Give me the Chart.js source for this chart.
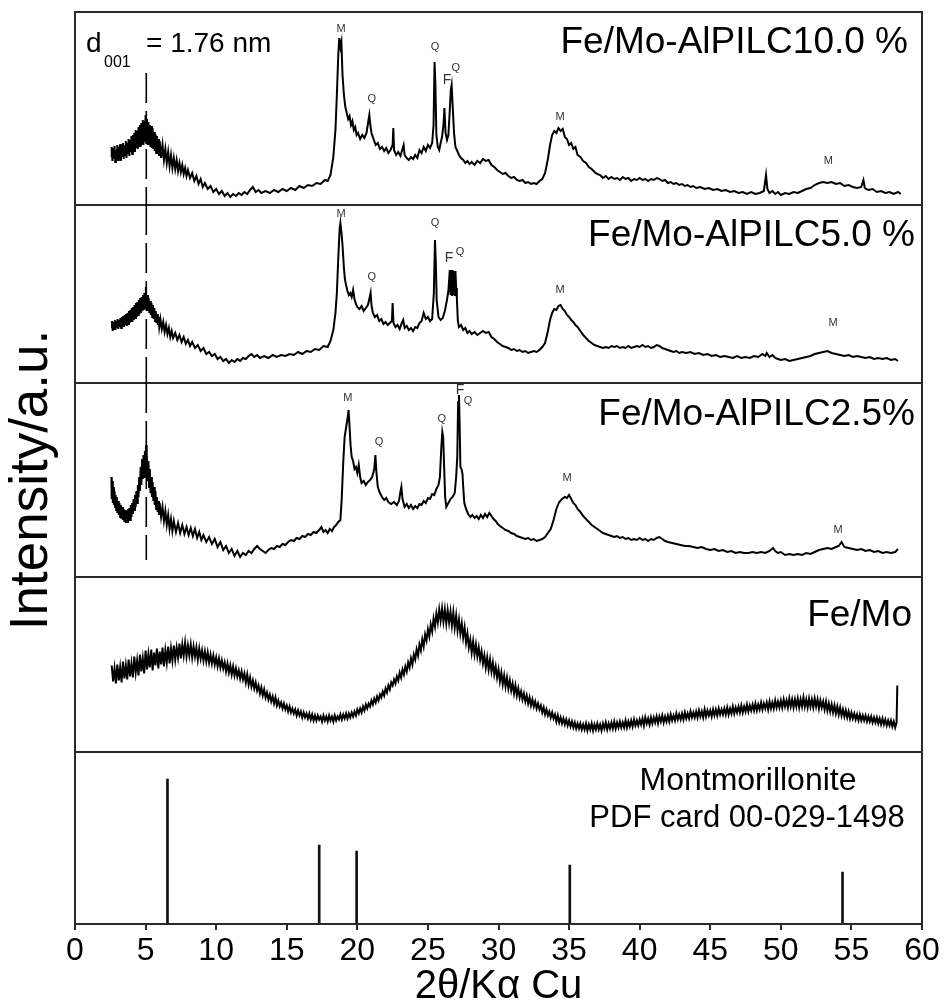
<!DOCTYPE html>
<html><head><meta charset="utf-8">
<script src="https://cdn.jsdelivr.net/npm/chart.js@4.4.1/dist/chart.umd.min.js"></script>
<style>html,body{margin:0;padding:0;background:#fff;}#wrap{width:946px;height:1007px;}</style>
</head><body><div id="wrap"><canvas id="c" width="946" height="1007"></canvas></div>
<script>
const FONT = '"Liberation Sans", Arial, Helvetica, sans-serif';
const xTickValues = [0,5,10,15,20,25,30,35,40,45,50,55,60];
const xTitle = '2θ/Kα Cu';
const yTitle = 'Intensity/a.u.';
const sampleNames = ['Fe/Mo-AlPILC10.0 %','Fe/Mo-AlPILC5.0 %','Fe/Mo-AlPILC2.5%','Fe/Mo'];
const refNames = ['Montmorillonite','PDF card 00-029-1498'];

// 2θ, intensity (a.u., local to each pattern)
const pattern10 = [[2.58,48],[2.6,58],[2.65,44],[2.7,57],[2.75,46],[2.8,59],[2.85,43],[2.9,55],[2.95,47],[3.0,60],[3.05,45],[3.1,58],[3.15,48],[3.2,61],[3.25,44],[3.3,59],[3.35,49],[3.4,62],[3.45,46],[3.5,60],[3.55,50],[3.6,64],[3.65,47],[3.7,62],[3.75,51],[3.8,66],[3.85,49],[3.9,65],[3.95,53],[4.0,69],[4.05,51],[4.1,70],[4.15,55],[4.2,72],[4.25,53],[4.3,75],[4.35,57],[4.4,74],[4.45,56],[4.5,78],[4.55,59],[4.6,80],[4.65,58],[4.7,82],[4.75,61],[4.8,85],[4.85,60],[4.9,84],[4.95,63],[5.0,90],[5.05,62],[5.1,86],[5.15,60],[5.2,83],[5.25,61],[5.3,80],[5.35,58],[5.4,79],[5.45,57],[5.5,77],[5.55,56],[5.6,73],[5.65,54],[5.7,71],[5.75,52],[5.8,69],[5.85,51],[5.9,66],[5.95,49],[6.0,64],[6.1,47],[6.2,60],[6.3,45],[6.4,56],[6.5,42],[6.6,53],[6.7,39],[6.8,50],[6.9,37],[7.0,47],[7.1,36],[7.2,45],[7.3,34],[7.4,42],[7.5,33],[7.6,40],[7.7,31],[7.8,37],[7.9,29],[8.0,35],[8.15,27],[8.3,32],[8.45,24],[8.6,29],[8.75,21],[8.9,26],[9.05,18],[9.2,22],[9.4,16],[9.6,19],[9.8,13],[10.0,16],[10.2,11],[10.4,14],[10.6,9],[10.8,12],[11.0,8],[11.2,11],[11.4,9],[11.6,12],[11.8,10],[12.0,13],[12.2,11],[12.4,15],[12.6,18],[12.8,13],[13.0,15],[13.2,12],[13.5,14],[13.8,12],[14.1,15],[14.4,13],[14.7,16],[15.0,14],[15.3,17],[15.6,15],[15.9,19],[16.2,17],[16.5,20],[16.8,19],[17.1,22],[17.4,21],[17.7,25],[17.9,24],[18.1,30],[18.3,48],[18.45,75],[18.55,110],[18.65,150],[18.72,167],[18.8,158],[18.87,163],[18.95,130],[19.05,110],[19.15,98],[19.25,92],[19.35,86],[19.45,89],[19.55,80],[19.65,84],[19.75,75],[19.85,78],[19.95,70],[20.05,72],[20.2,66],[20.35,70],[20.5,67],[20.65,72],[20.78,84],[20.85,90],[20.92,80],[21.0,72],[21.15,66],[21.3,60],[21.45,62],[21.6,56],[21.75,58],[21.9,54],[22.05,57],[22.2,52],[22.35,55],[22.5,60],[22.55,77],[22.6,55],[22.75,50],[22.9,53],[23.05,49],[23.2,56],[23.28,60],[23.35,50],[23.5,47],[23.65,45],[23.8,48],[23.95,46],[24.1,50],[24.25,47],[24.4,55],[24.55,52],[24.7,58],[24.85,54],[25.0,60],[25.15,57],[25.3,62],[25.4,80],[25.47,143],[25.53,120],[25.6,70],[25.7,58],[25.8,55],[25.9,62],[26.0,68],[26.1,80],[26.17,97],[26.25,72],[26.35,65],[26.45,70],[26.55,95],[26.62,115],[26.68,120],[26.75,100],[26.85,72],[26.95,58],[27.05,55],[27.2,50],[27.35,47],[27.5,45],[27.65,42],[27.8,44],[27.95,41],[28.1,43],[28.3,40],[28.5,44],[28.7,42],[28.9,46],[29.1,44],[29.3,45],[29.5,40],[29.7,38],[29.9,35],[30.1,33],[30.3,31],[30.5,32],[30.7,29],[30.9,27],[31.1,28],[31.3,25],[31.5,24],[31.7,25],[31.9,22],[32.1,23],[32.3,21],[32.5,22],[32.7,21],[32.9,24],[33.1,26],[33.3,32],[33.5,46],[33.65,60],[33.8,70],[33.95,74],[34.1,72],[34.25,77],[34.4,74],[34.55,76],[34.7,68],[34.85,66],[35.0,60],[35.15,62],[35.3,56],[35.45,58],[35.6,50],[35.8,48],[36.0,44],[36.2,42],[36.4,38],[36.6,36],[36.8,33],[37.0,31],[37.2,30],[37.4,27],[37.6,29],[37.8,26],[38.0,28],[38.2,26],[38.4,27],[38.6,25],[38.8,28],[39.0,26],[39.2,27],[39.4,24],[39.6,26],[39.8,25],[40.0,27],[40.2,25],[40.4,26],[40.6,24],[40.8,26],[41.0,25],[41.2,27],[41.4,26],[41.6,24],[41.8,25],[42.0,22],[42.2,23],[42.4,21],[42.6,22],[42.8,20],[43.0,21],[43.2,19],[43.4,20],[43.6,18],[43.8,19],[44.0,17],[44.3,18],[44.6,16],[44.9,17],[45.2,15],[45.5,16],[45.8,14],[46.1,15],[46.4,13],[46.7,14],[47.0,12],[47.3,13],[47.6,11],[47.9,13],[48.2,11],[48.5,12],[48.8,14],[48.95,30],[49.05,16],[49.2,12],[49.4,14],[49.6,11],[49.8,13],[50.0,10],[50.3,12],[50.6,11],[50.9,13],[51.2,12],[51.5,14],[51.8,16],[52.1,17],[52.4,20],[52.7,22],[53.0,23],[53.3,22],[53.6,23],[53.9,21],[54.2,22],[54.5,19],[54.8,20],[55.1,18],[55.4,17],[55.7,18],[55.85,25],[55.95,17],[56.2,15],[56.5,16],[56.8,13],[57.1,14],[57.4,12],[57.7,13],[58.0,11],[58.3,13],[58.5,11]];

const pattern5 = [[2.58,55],[2.62,62],[2.67,52],[2.72,61],[2.77,54],[2.82,63],[2.87,53],[2.92,62],[2.97,55],[3.02,64],[3.07,54],[3.12,63],[3.17,56],[3.22,65],[3.27,55],[3.32,66],[3.37,57],[3.42,67],[3.47,56],[3.52,68],[3.57,58],[3.62,69],[3.67,57],[3.72,70],[3.77,59],[3.82,72],[3.87,60],[3.92,73],[3.97,62],[4.02,75],[4.07,61],[4.12,76],[4.17,63],[4.22,78],[4.27,65],[4.32,80],[4.37,66],[4.42,81],[4.47,68],[4.52,83],[4.57,69],[4.62,85],[4.67,70],[4.72,86],[4.77,72],[4.82,88],[4.87,73],[4.92,90],[4.97,75],[5.02,96],[5.07,74],[5.12,88],[5.17,72],[5.22,85],[5.27,70],[5.32,82],[5.37,68],[5.42,80],[5.47,66],[5.52,78],[5.57,64],[5.62,75],[5.67,62],[5.72,72],[5.77,60],[5.82,69],[5.87,58],[5.92,66],[5.97,56],[6.05,64],[6.15,54],[6.25,61],[6.35,51],[6.45,58],[6.55,49],[6.65,55],[6.75,46],[6.85,52],[6.95,45],[7.1,50],[7.25,43],[7.4,48],[7.55,41],[7.7,46],[7.85,39],[8.0,43],[8.15,37],[8.3,41],[8.5,35],[8.7,38],[8.9,32],[9.1,35],[9.3,29],[9.5,31],[9.7,27],[9.9,29],[10.1,24],[10.3,26],[10.5,22],[10.7,24],[10.9,20],[11.1,23],[11.3,21],[11.5,24],[11.7,22],[11.9,25],[12.1,24],[12.3,27],[12.5,29],[12.7,26],[12.9,28],[13.1,25],[13.4,27],[13.7,25],[14.0,28],[14.3,26],[14.6,28],[14.9,27],[15.2,29],[15.5,28],[15.8,31],[16.1,29],[16.4,32],[16.7,31],[17.0,34],[17.3,33],[17.6,37],[17.9,36],[18.1,42],[18.3,53],[18.45,70],[18.55,90],[18.65,125],[18.75,155],[18.8,160],[18.88,150],[18.95,138],[19.05,115],[19.12,104],[19.2,98],[19.3,92],[19.4,88],[19.5,90],[19.6,86],[19.7,93],[19.8,84],[19.9,79],[20.0,76],[20.15,74],[20.3,77],[20.45,72],[20.6,75],[20.75,78],[20.88,86],[20.94,90],[21.0,78],[21.1,70],[21.25,66],[21.4,68],[21.55,62],[21.7,64],[21.85,59],[22.0,61],[22.15,58],[22.3,60],[22.45,62],[22.5,80],[22.56,60],[22.7,56],[22.85,58],[23.0,54],[23.15,60],[23.25,63],[23.35,55],[23.5,57],[23.65,53],[23.8,55],[23.95,52],[24.1,56],[24.25,55],[24.4,60],[24.55,62],[24.7,70],[24.85,64],[25.0,66],[25.15,62],[25.3,64],[25.42,90],[25.5,143],[25.56,120],[25.62,83],[25.75,66],[25.9,63],[26.05,65],[26.2,72],[26.35,83],[26.45,92],[26.55,113],[26.6,88],[26.65,113],[26.7,87],[26.75,113],[26.8,88],[26.85,112],[26.9,87],[26.95,112],[27.0,95],[27.05,85],[27.12,62],[27.2,56],[27.35,58],[27.5,53],[27.65,55],[27.8,50],[27.95,52],[28.1,49],[28.3,51],[28.5,48],[28.7,50],[28.9,52],[29.1,50],[29.3,51],[29.5,46],[29.7,44],[29.9,41],[30.1,39],[30.3,37],[30.5,36],[30.7,35],[30.9,33],[31.1,34],[31.3,32],[31.5,33],[31.7,31],[31.9,32],[32.1,30],[32.3,31],[32.5,32],[32.7,31],[32.9,33],[33.1,36],[33.3,40],[33.5,52],[33.65,63],[33.8,70],[33.95,74],[34.1,73],[34.25,77],[34.4,78],[34.55,74],[34.7,72],[34.85,68],[35.0,66],[35.15,63],[35.3,61],[35.45,58],[35.6,56],[35.8,52],[36.0,48],[36.2,45],[36.4,42],[36.6,40],[36.8,38],[37.0,37],[37.2,36],[37.4,35],[37.6,36],[37.8,35],[38.0,37],[38.2,36],[38.4,37],[38.6,35],[38.8,36],[39.0,35],[39.2,37],[39.4,35],[39.6,36],[39.8,37],[40.0,36],[40.2,38],[40.4,36],[40.6,37],[40.8,35],[41.0,36],[41.2,38],[41.4,37],[41.6,35],[41.8,34],[42.0,33],[42.2,32],[42.4,31],[42.6,32],[42.8,30],[43.0,31],[43.3,30],[43.6,31],[43.9,29],[44.2,30],[44.5,28],[44.8,29],[45.1,27],[45.4,28],[45.7,26],[46.0,27],[46.3,26],[46.6,25],[46.9,27],[47.2,25],[47.5,26],[47.8,25],[48.1,27],[48.4,26],[48.7,29],[48.9,27],[49.0,30],[49.2,26],[49.4,28],[49.6,25],[49.8,24],[50.0,23],[50.3,24],[50.6,22],[50.9,23],[51.2,24],[51.5,25],[51.8,26],[52.1,27],[52.4,29],[52.7,30],[53.0,31],[53.3,32],[53.6,30],[53.9,29],[54.2,28],[54.5,27],[54.8,28],[55.1,26],[55.4,27],[55.7,26],[56.0,25],[56.3,26],[56.6,24],[56.9,25],[57.2,24],[57.5,25],[57.8,23],[58.1,24],[58.3,22]];

const pattern25 = [[2.58,100],[2.6,78],[2.64,96],[2.68,74],[2.72,90],[2.76,72],[2.8,86],[2.84,70],[2.88,82],[2.92,67],[2.96,80],[3.0,64],[3.05,76],[3.1,62],[3.15,74],[3.2,60],[3.25,72],[3.3,58],[3.35,70],[3.4,57],[3.45,68],[3.5,55],[3.55,67],[3.6,54],[3.65,66],[3.7,55],[3.75,68],[3.8,56],[3.85,69],[3.9,57],[3.95,72],[4.0,60],[4.05,74],[4.1,63],[4.15,78],[4.2,67],[4.25,82],[4.3,70],[4.35,86],[4.4,74],[4.45,92],[4.5,80],[4.55,100],[4.6,86],[4.65,110],[4.7,92],[4.75,118],[4.8,98],[4.85,122],[4.9,100],[4.95,126],[5.0,104],[5.03,132],[5.06,100],[5.1,124],[5.15,96],[5.2,116],[5.25,90],[5.3,108],[5.35,84],[5.4,100],[5.45,80],[5.5,95],[5.55,76],[5.6,90],[5.65,72],[5.7,86],[5.75,68],[5.8,80],[5.85,65],[5.9,76],[5.95,62],[6.0,74],[6.1,60],[6.2,70],[6.3,56],[6.4,66],[6.5,52],[6.6,62],[6.7,48],[6.8,58],[6.9,46],[7.0,56],[7.15,45],[7.3,54],[7.45,44],[7.6,52],[7.75,43],[7.9,50],[8.05,42],[8.2,49],[8.35,41],[8.5,48],[8.65,39],[8.8,45],[8.95,37],[9.1,42],[9.3,35],[9.5,40],[9.7,33],[9.9,38],[10.1,30],[10.3,35],[10.5,27],[10.7,31],[10.9,24],[11.1,28],[11.3,21],[11.5,26],[11.7,20],[11.9,24],[12.1,22],[12.3,26],[12.5,24],[12.7,28],[12.9,31],[13.1,28],[13.3,26],[13.5,24],[13.7,27],[13.9,29],[14.1,28],[14.3,31],[14.5,30],[14.7,33],[14.9,32],[15.1,35],[15.3,37],[15.5,36],[15.7,39],[15.9,38],[16.1,41],[16.3,40],[16.5,43],[16.7,42],[16.9,45],[17.1,44],[17.3,47],[17.45,50],[17.6,45],[17.75,47],[17.9,44],[18.05,48],[18.2,46],[18.35,50],[18.5,52],[18.65,55],[18.8,57],[18.9,80],[19.0,114],[19.1,140],[19.2,149],[19.3,158],[19.38,167],[19.45,150],[19.52,132],[19.6,120],[19.7,116],[19.8,108],[19.9,110],[20.0,104],[20.1,112],[20.2,100],[20.3,94],[20.45,96],[20.6,92],[20.75,95],[20.9,97],[21.05,100],[21.2,108],[21.28,122],[21.35,105],[21.45,90],[21.6,84],[21.75,80],[21.9,77],[22.05,79],[22.2,75],[22.4,73],[22.6,75],[22.8,72],[22.95,76],[23.05,85],[23.12,90],[23.2,78],[23.35,70],[23.5,73],[23.65,69],[23.8,72],[23.95,68],[24.1,71],[24.25,69],[24.4,73],[24.55,72],[24.7,76],[24.85,74],[25.0,79],[25.15,78],[25.3,83],[25.45,82],[25.6,88],[25.75,92],[25.85,100],[25.95,130],[26.02,145],[26.08,140],[26.15,110],[26.22,80],[26.3,70],[26.45,74],[26.6,78],[26.75,80],[26.9,84],[27.0,100],[27.08,120],[27.14,175],[27.2,182],[27.25,150],[27.3,110],[27.38,108],[27.45,103],[27.5,90],[27.58,74],[27.7,68],[27.85,63],[28.0,60],[28.15,62],[28.3,59],[28.45,61],[28.6,58],[28.75,62],[28.9,59],[29.05,63],[29.2,60],[29.35,64],[29.5,61],[29.65,58],[29.8,56],[29.95,53],[30.1,51],[30.3,49],[30.5,47],[30.7,46],[30.9,44],[31.1,43],[31.3,41],[31.5,40],[31.7,39],[31.9,38],[32.1,39],[32.3,37],[32.5,38],[32.7,36],[32.9,37],[33.1,38],[33.3,40],[33.5,44],[33.7,48],[33.9,57],[34.1,68],[34.3,75],[34.5,78],[34.7,80],[34.85,79],[35.0,82],[35.15,78],[35.3,74],[35.45,72],[35.6,68],[35.8,65],[36.0,61],[36.2,58],[36.4,55],[36.6,52],[36.8,50],[37.0,48],[37.2,46],[37.4,44],[37.6,43],[37.8,42],[38.0,41],[38.2,40],[38.4,41],[38.6,39],[38.8,40],[39.0,38],[39.2,39],[39.4,37],[39.6,38],[39.8,37],[40.0,39],[40.2,37],[40.4,38],[40.6,36],[40.8,38],[41.0,37],[41.2,39],[41.4,40],[41.6,38],[41.8,36],[42.0,35],[42.3,34],[42.6,33],[42.9,32],[43.2,31],[43.5,31],[43.8,30],[44.1,29],[44.4,30],[44.7,28],[45.0,27],[45.3,28],[45.6,26],[45.9,27],[46.2,25],[46.5,26],[46.8,24],[47.1,25],[47.4,24],[47.7,24],[48.0,25],[48.3,24],[48.6,25],[48.9,24],[49.2,26],[49.45,29],[49.6,26],[49.8,24],[50.0,25],[50.3,22],[50.6,23],[50.9,22],[51.2,23],[51.5,22],[51.8,24],[52.1,23],[52.4,25],[52.7,27],[53.0,28],[53.3,29],[53.6,28],[53.9,30],[54.1,31],[54.3,35],[54.5,30],[54.8,29],[55.1,28],[55.4,27],[55.7,28],[56.0,26],[56.3,27],[56.6,25],[56.9,26],[57.2,24],[57.5,25],[57.8,24],[58.1,25],[58.3,28]];

const patternFeMo = [[2.6,86],[2.7,70],[2.8,83],[2.9,68],
[3.0,87],[3.1,71],[3.2,84],[3.3,69],[3.4,90],[3.5,73],[3.6,86],[3.7,72],[3.8,92],[3.9,75],
[4.0,88],[4.1,74],[4.2,95],[4.3,79],[4.4,91],[4.5,76],[4.6,97],[4.7,80],[4.8,93],[4.9,78],
[5.0,101],[5.1,82],[5.2,97],[5.3,84],[5.4,102],[5.5,81],[5.6,99],[5.7,86],[5.8,103],[5.9,83],
[6.0,100],[6.1,87],[6.2,104],[6.3,85],[6.4,101],[6.5,89],[6.6,105],[6.7,88],[6.8,103],[6.9,91],
[7.0,106],[7.1,92],[7.2,104],[7.3,94],[7.4,108],[7.5,93],[7.6,107],[7.7,96],[7.8,109],[7.9,95],
[8.0,106],[8.1,96],[8.2,107],[8.3,94],[8.4,105],[8.5,95],[8.6,104],[8.7,92],[8.8,103],[8.9,93],
[9.0,101],[9.1,91],[9.2,100],[9.3,90],[9.4,99],[9.5,89],[9.6,97],[9.7,88],[9.8,96],[9.9,87],
[10.0,94],[10.1,85],[10.2,93],[10.3,84],[10.4,91],[10.5,83],[10.6,89],[10.7,80],[10.8,88],[10.9,79],
[11.0,86],[11.1,77],[11.2,85],[11.3,76],[11.4,83],[11.5,75],[11.6,81],[11.7,73],[11.8,80],[11.9,72],
[12.0,78],[12.1,69],[12.2,77],[12.3,67],[12.4,74],[12.5,65],[12.6,71],[12.7,63],[12.8,69],[12.9,61],
[13.0,66],[13.1,58],[13.2,64],[13.3,56],[13.4,62],[13.5,54],[13.6,59],[13.7,52],[13.8,57],[13.9,50],
[14.0,55],[14.1,48],[14.2,54],[14.3,46],[14.4,51],[14.5,45],[14.6,49],[14.7,43],[14.8,48],[14.9,42],
[15.0,46],[15.1,40],[15.2,45],[15.3,39],[15.4,43],[15.5,38],[15.6,42],[15.7,36],[15.8,41],[15.9,36],
[16.0,40],[16.1,34],[16.2,39],[16.3,34],[16.4,38],[16.5,33],[16.6,38],[16.7,32],[16.8,37],[16.9,31],
[17.0,36],[17.1,31],[17.2,36],[17.3,32],[17.4,35],[17.5,30],[17.6,36],[17.7,31],[17.8,35],[17.9,30],
[18.0,36],[18.1,31],[18.2,35],[18.3,30],[18.4,36],[18.5,31],[18.6,35],[18.7,32],[18.8,37],[18.9,32],
[19.0,37],[19.1,33],[19.2,38],[19.3,33],[19.4,38],[19.5,34],[19.6,39],[19.7,35],[19.8,40],[19.9,36],
[20.0,42],[20.1,38],[20.2,43],[20.3,39],[20.4,45],[20.5,41],[20.6,47],[20.7,43],[20.8,48],[20.9,45],
[21.0,51],[21.1,47],[21.2,53],[21.3,49],[21.4,55],[21.5,51],[21.6,57],[21.7,54],[21.8,60],[21.9,56],
[22.0,63],[22.1,59],[22.2,66],[22.3,62],[22.4,69],[22.5,66],[22.6,72],[22.7,68],[22.8,75],[22.9,71],
[23.0,79],[23.1,74],[23.2,82],[23.3,77],[23.4,85],[23.5,80],[23.6,89],[23.7,84],[23.8,93],[23.9,87],
[24.0,97],[24.1,92],[24.2,102],[24.3,96],[24.4,107],[24.5,101],[24.6,112],[24.7,105],[24.8,117],[24.9,111],
[25.0,122],[25.1,115],[25.2,127],[25.3,120],[25.4,133],[25.5,125],[25.6,138],[25.7,129],[25.8,142],[25.9,131],
[26.0,143],[26.1,130],[26.2,142],[26.3,128],[26.4,141],[26.5,129],[26.6,140],[26.7,126],[26.8,139],[26.9,124],
[27.0,136],[27.1,121],[27.2,132],[27.3,118],[27.4,128],[27.5,114],[27.6,124],[27.7,109],[27.8,118],[27.9,104],
[28.0,112],[28.1,99],[28.2,110],[28.3,97],[28.4,107],[28.5,95],[28.6,104],[28.7,92],[28.8,100],[28.9,88],
[29.0,96],[29.1,84],[29.2,94],[29.3,82],[29.4,92],[29.5,80],[29.6,89],[29.7,77],[29.8,85],[29.9,74],
[30.0,82],[30.1,70],[30.2,79],[30.3,67],[30.4,76],[30.5,65],[30.6,74],[30.7,63],[30.8,71],[30.9,61],
[31.0,68],[31.1,58],[31.2,66],[31.3,56],[31.4,63],[31.5,54],[31.6,60],[31.7,52],[31.8,58],[31.9,50],
[32.0,56],[32.1,48],[32.2,54],[32.3,46],[32.4,52],[32.5,45],[32.6,50],[32.7,43],[32.8,48],[32.9,42],
[33.0,46],[33.1,39],[33.2,44],[33.3,37],[33.4,42],[33.5,36],[33.6,40],[33.7,34],[33.8,39],[33.9,33],
[34.0,37],[34.1,30],[34.2,36],[34.3,29],[34.4,34],[34.5,28],[34.6,33],[34.7,27],[34.8,32],[34.9,26],
[35.0,31],[35.1,25],[35.2,30],[35.3,24],[35.4,29],[35.5,23],[35.6,28],[35.7,23],[35.8,28],[35.9,22],
[36.0,27],[36.1,22],[36.2,28],[36.3,21],[36.4,27],[36.5,22],[36.6,28],[36.7,21],[36.8,27],[36.9,22],
[37.0,28],[37.1,22],[37.2,27],[37.3,21],[37.4,28],[37.5,23],[37.6,29],[37.7,22],[37.8,28],[37.9,23],
[38.0,29],[38.1,23],[38.2,30],[38.3,23],[38.4,29],[38.5,24],[38.6,30],[38.7,24],[38.8,29],[38.9,24],
[39.0,31],[39.1,24],[39.2,30],[39.3,25],[39.4,31],[39.5,25],[39.6,32],[39.7,26],[39.8,31],[39.9,26],
[40.0,32],[40.1,27],[40.2,33],[40.3,26],[40.4,34],[40.5,28],[40.6,33],[40.7,27],[40.8,34],[40.9,28],
[41.0,34],[41.1,29],[41.2,35],[41.3,28],[41.4,35],[41.5,30],[41.6,36],[41.7,29],[41.8,35],[41.9,30],
[42.0,36],[42.1,30],[42.2,37],[42.3,31],[42.4,36],[42.5,31],[42.6,38],[42.7,32],[42.8,37],[42.9,32],
[43.0,38],[43.1,32],[43.2,39],[43.3,33],[43.4,38],[43.5,33],[43.6,40],[43.7,34],[43.8,39],[43.9,34],
[44.0,40],[44.1,34],[44.2,41],[44.3,35],[44.4,40],[44.5,34],[44.6,42],[44.7,35],[44.8,41],[44.9,36],
[45.0,41],[45.1,35],[45.2,42],[45.3,36],[45.4,42],[45.5,36],[45.6,43],[45.7,37],[45.8,42],[45.9,37],
[46.0,43],[46.1,37],[46.2,44],[46.3,37],[46.4,43],[46.5,38],[46.6,45],[46.7,38],[46.8,44],[46.9,39],
[47.0,45],[47.1,39],[47.2,46],[47.3,39],[47.4,45],[47.5,40],[47.6,47],[47.7,40],[47.8,46],[47.9,41],
[48.0,47],[48.1,41],[48.2,48],[48.3,41],[48.4,47],[48.5,42],[48.6,49],[48.7,42],[48.8,48],[48.9,43],
[49.0,49],[49.1,42],[49.2,50],[49.3,43],[49.4,49],[49.5,43],[49.6,51],[49.7,44],[49.8,50],[49.9,44],
[50.0,51],[50.1,44],[50.2,52],[50.3,45],[50.4,51],[50.5,44],[50.6,53],[50.7,45],[50.8,52],[50.9,44],
[51.0,52],[51.1,45],[51.2,53],[51.3,44],[51.4,52],[51.5,45],[51.6,54],[51.7,45],[51.8,52],[51.9,44],
[52.0,53],[52.1,45],[52.2,52],[52.3,44],[52.4,53],[52.5,45],[52.6,52],[52.7,43],[52.8,51],[52.9,44],
[53.0,50],[53.1,42],[53.2,50],[53.3,41],[53.4,48],[53.5,40],[53.6,47],[53.7,39],[53.8,46],[53.9,38],
[54.0,45],[54.1,37],[54.2,44],[54.3,36],[54.4,42],[54.5,35],[54.6,41],[54.7,34],[54.8,40],[54.9,33],
[55.0,39],[55.1,33],[55.2,38],[55.3,32],[55.4,37],[55.5,31],[55.6,37],[55.7,31],[55.8,36],[55.9,31],
[56.0,36],[56.1,30],[56.2,35],[56.3,30],[56.4,35],[56.5,29],[56.6,34],[56.7,29],[56.8,34],[56.9,28],
[57.0,33],[57.1,27],[57.2,33],[57.3,27],[57.4,32],[57.5,26],[57.6,31],[57.7,26],[57.8,31],[57.9,25],
[58.0,30],[58.1,24],[58.2,29],[58.25,66]];

// Montmorillonite reference card (2θ, relative intensity)
const montAngles = [6.55, 17.3, 19.95, 35.05, 54.37];
const montIntensity = [145, 79, 73, 59, 52];

// phase labels: 2θ, intensity, phase letter
const peaks10 = [[18.84,176,'M'],[21.03,106,'Q'],[25.5,158,'Q'],[26.35,125,'F'],[26.98,137,'Q'],[34.36,88,'M'],[53.36,44,'M']];
const peaks5 = [[18.84,169,'M'],[21.03,106,'Q'],[25.5,160,'Q'],[26.49,125,'F'],[27.27,131,'Q'],[34.36,93,'M'],[53.7,60,'M']];
const peaks25 = [[19.33,179,'M'],[21.53,135,'Q'],[25.99,158,'Q'],[27.27,187,'F'],[27.84,176,'Q'],[34.85,99,'M'],[54.06,47,'M']];

const d001Angle = 5.05;

// panel intensity ranges (top to bottom)
const panelMax = {y100:193, y50:178, y25:194, yFeMo:174.5, yMont:172.5};

const toXY = arr => arr.map(p => ({x:p[0], y:p[1]}));
const lineDs = (arr, axis) => ({type:'line', data: toXY(arr), yAxisID: axis, borderColor:'#000', borderWidth:2, pointRadius:0, tension:0, fill:false});
const dashDs = (y0, y1, axis) => ({type:'line', data:[{x:d001Angle,y:y0},{x:d001Angle,y:y1}], yAxisID: axis, borderColor:'#000', borderWidth:1.6, borderDash:[30,8], pointRadius:0, fill:false});

const yAxis = (id, extra) => Object.assign({
  type:'linear', position:'left', stack:'xrd', stackWeight: panelMax[id], offset:false,
  min:0, max: panelMax[id],
  afterBuildTicks: s => { s.ticks = [{value: s.max}]; },
  afterFit: s => { s.width = 75; },
  ticks:{display:false},
  grid:{drawOnChartArea:true, drawTicks:false, color:'#2a2a2a', lineWidth:2},
  border:{display:true, color:'#2a2a2a', width:2}
}, extra || {});

const textPlugin = {
  id:'texts',
  afterDraw(chart) {
    const {ctx, chartArea, scales} = chart;
    ctx.save();
    ctx.strokeStyle = '#2a2a2a'; ctx.lineWidth = 2;
    ctx.strokeRect(chartArea.left, chartArea.top, chartArea.right - chartArea.left, chartArea.bottom - chartArea.top);
    ctx.fillStyle = '#000';
    ctx.textAlign = 'right'; ctx.textBaseline = 'middle';
    const panels = [['y100', 0, 14, 31], ['y50', 1, 7, 31], ['y25', 2, 7, 32], ['yFeMo', 3, 10, 39]];
    panels.forEach(([ax, i, dx, dy]) => {
      ctx.font = '37px ' + FONT;
      ctx.fillText(sampleNames[i], chartArea.right - dx, scales[ax].top + dy);
    });
    ctx.textAlign = 'center';
    ctx.font = '32px ' + FONT;
    ctx.fillText(refNames[0], 748, scales.yMont.top + 30);
    ctx.font = '31px ' + FONT;
    ctx.fillText(refNames[1], 747, scales.yMont.top + 67);
    ctx.fillStyle = '#333';
    [[peaks10,'y100'],[peaks5,'y50'],[peaks25,'y25']].forEach(([list, ax]) => {
      list.forEach(([x, v, t]) => {
        ctx.font = (t === 'F' ? '14px ' : '11px ') + FONT;
        ctx.fillText(t, scales.x.getPixelForValue(x), scales[ax].getPixelForValue(v));
      });
    });
    ctx.fillStyle = '#000';
    ctx.textAlign = 'left'; ctx.textBaseline = 'alphabetic';
    ctx.font = '28px ' + FONT;
    ctx.fillText('d', 86, 52);
    ctx.font = '16px ' + FONT;
    ctx.fillText('001', 104, 67);
    ctx.font = '28px ' + FONT;
    ctx.fillText('= 1.76 nm', 146, 52);
    ctx.restore();
  }
};

new Chart(document.getElementById('c'), {
  type:'line',
  data:{datasets:[
    lineDs(pattern10,'y100'),
    lineDs(pattern5,'y50'),
    lineDs(pattern25,'y25'),
    lineDs(patternFeMo,'yFeMo'),
    {type:'bar', data: montAngles.map((a,i)=>({x:a, y:montIntensity[i]})), yAxisID:'yMont', backgroundColor:'#111', barThickness:2, grouped:false},
    dashDs(132, 0, 'y100'),
    dashDs(178, 0, 'y50'),
    dashDs(194, 17, 'y25')
  ]},
  options:{
    responsive:false, animation:false, devicePixelRatio:1,
    layout:{padding:{left:0, right:24, top:12, bottom:0}},
    plugins:{legend:{display:false}, tooltip:{enabled:false}},
    scales:{
      x:{type:'linear', position:'bottom', min:0, max:60, offset:false,
        afterBuildTicks: s => { s.ticks = xTickValues.map(v => ({value:v})); },
        afterFit: s => { s.height = 83; },
        ticks:{color:'#000', font:{size:32, family:FONT}, padding:2, autoSkip:false, maxRotation:0},
        grid:{offset:false, drawOnChartArea:false, drawTicks:true, tickLength:6, color:'#2a2a2a', lineWidth:2},
        border:{display:true, color:'#2a2a2a', width:2},
        title:{display:true, text:xTitle, color:'#000', font:{size:40, family:FONT, lineHeight:1}, padding:{top:0, bottom:0}}
      },
      yMont: yAxis('yMont'),
      yFeMo: yAxis('yFeMo'),
      y25: yAxis('y25', {title:{display:true, text:yTitle, color:'#000', font:{size:53, family:FONT, lineHeight:1}, padding:{top:6, bottom:0}}}),
      y50: yAxis('y50'),
      y100: yAxis('y100')
    }
  },
  plugins:[textPlugin]
});
</script></body></html>
